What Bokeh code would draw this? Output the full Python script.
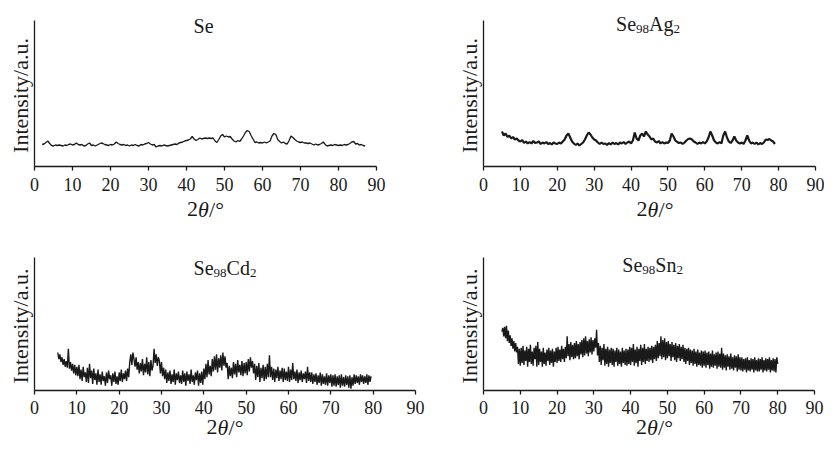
import math
import numpy as np
from bokeh.plotting import figure
from bokeh.layouts import column, row
from bokeh.models import Label, Range1d, FixedTicker
from bokeh.embed import file_html
from bokeh.resources import INLINE

# ---------------- data ----------------
x_ticks = [0, 10, 20, 30, 40, 50, 60, 70, 80, 90]

se_start, se_step = 2.0, 0.5
se_intensity = [
    22, 22.5, 24, 25.5, 23, 21, 20.5, 21.5, 21, 21.5,
    21, 20.5, 21.5, 21, 22, 22.5, 21.5, 22, 23.5, 22,
    21.5, 22, 20.5, 21, 22.5, 23.5, 21, 21.5, 20.5, 21.5,
    22.5, 23.5, 23, 22, 21.5, 21, 22, 21.5, 22.5, 24.5,
    23, 22, 21.5, 22, 21, 21.5, 20.5, 21.5, 21, 22,
    21, 20.5, 22, 21.5, 22.5, 23, 24, 22.5, 21.5, 22,
    19.5, 20.5, 21, 20.5, 21.5, 21, 20.5, 21, 21.5, 22,
    22.5, 22, 23.5, 24, 24.5, 25.5, 26, 26.5, 27.5, 30,
    27.5, 26, 27, 28.5, 27.5, 28, 28.5, 28, 28.5, 28,
    28.5, 25.5, 24, 27, 30.5, 32, 29.5, 30.5, 29.5, 30,
    27.5, 25.5, 24.5, 26, 25, 27.5, 30.5, 34, 36, 35,
    31, 27.5, 24, 24.5, 23.5, 24, 23.5, 24.5, 23.5, 24.5,
    25.5, 30.5, 33, 32, 27, 25, 23.5, 24.5, 23, 22.5,
    26, 30.5, 29, 27, 25.5, 24.5, 24, 24.5, 23.5, 23.5,
    23, 23.5, 22.5, 21.5, 22.5, 21.5, 22, 23, 24.5, 22,
    20.5, 21, 21.5, 21, 22, 21.5, 21, 21.5, 21, 22,
    21.5, 22, 23, 24.5, 25, 22.5, 23, 21.5, 22, 21,
    20.5,
]

ag_start, ag_step = 5.0, 0.5
ag_intensity = [
    35, 31, 33, 29.5, 31, 28, 29.5, 27, 28, 26,
    25, 26.5, 23.5, 25, 23, 24.5, 23, 25.5, 23.5, 24,
    25, 22.5, 24, 23, 24.5, 22.5, 23.5, 22, 24, 23,
    22.5, 24, 23, 25, 27, 31, 33, 29, 25, 23,
    21.5, 23, 21, 22.5, 24, 27, 31, 34, 32, 29,
    27, 26, 24, 22.5, 24, 22.5, 23, 21.5, 23.5, 22,
    24, 22.5, 23.5, 22, 24, 23, 24.5, 22.5, 24, 25,
    23, 26, 34, 28, 26, 31, 33, 30, 35, 32,
    30, 27, 28, 25, 24, 25.5, 23, 24.5, 23, 24,
    23.5, 26, 33, 30, 26, 24.5, 23.5, 24, 22.5, 24,
    26, 27.5, 28, 27, 25, 24, 22.5, 24, 23, 24.5,
    23, 25, 29, 35, 31, 26, 24, 23, 24.5, 23,
    31, 35, 29, 25, 23.5, 26, 30, 26, 24, 23,
    24, 22.5, 26, 31, 26, 23, 24, 22.5, 24, 22,
    23.5, 22.5, 24, 27, 26.5, 27.5, 26, 25, 22.5,
]

cd_start, cd_step = 5.5, 0.25
cd_intensity = [
    40, 33, 38, 30, 35, 27, 33, 25, 31, 24, 44, 23, 30, 21, 28, 18, 27, 16, 25, 15,
    27, 12, 22, 10, 25, 14, 19, 9, 24, 8, 28, 13, 21, 7, 23, 11, 18, 6, 22, 9,
    17, 6, 20, 10, 15, 5, 19, 8, 21, 12, 16, 5, 18, 9, 20, 7, 15, 6, 19, 10,
    22, 9, 18, 12, 21, 10, 23, 14, 30, 38, 27, 40, 33, 25, 35, 22, 30, 18, 29, 20,
    33, 16, 28, 19, 35, 17, 30, 15, 32, 21, 26, 44, 29, 38, 26, 35, 31, 18, 30, 15,
    24, 12, 22, 8, 19, 10, 21, 7, 17, 9, 22, 6, 18, 11, 20, 8, 16, 7, 21, 9,
    18, 5, 20, 10, 17, 7, 22, 9, 16, 6, 19, 11, 21, 5, 18, 8, 20, 6, 23, 12,
    28, 14, 32, 17, 26, 15, 33, 20, 36, 22, 38, 19, 34, 24, 37, 21, 40, 26, 36, 24,
    29, 12, 26, 15, 24, 13, 30, 17, 28, 14, 32, 19, 27, 16, 31, 15, 29, 18, 30, 16,
    33, 20, 35, 24, 31, 18, 28, 11, 26, 14, 29, 9, 24, 13, 27, 10, 25, 12, 28, 14,
    37, 14, 25, 11, 23, 9, 22, 13, 25, 10, 21, 12, 24, 9, 23, 11, 20, 10, 25, 9,
    22, 11, 29, 12, 20, 10, 22, 8, 19, 11, 21, 9, 18, 12, 20, 8, 25, 10, 19, 9,
    19, 7, 17, 9, 18, 6, 16, 8, 19, 5, 17, 7, 15, 6, 18, 5, 16, 8, 17, 4,
    16, 5, 17, 4, 15, 6, 16, 3, 17, 5, 14, 4, 16, 6, 15, 3, 16, 2, 14, 5,
    17, 7, 16, 8, 15, 6, 17, 9, 16, 7, 15, 8, 17, 6, 16, 9, 15,
]

sn_start, sn_step = 5.0, 0.25
sn_intensity = [
    62, 66, 57, 67, 55, 68, 52, 63, 50, 58, 47, 55, 44, 52, 41, 50, 40, 46, 28, 44,
    26, 45, 29, 47, 27, 42, 31, 46, 25, 44, 30, 48, 28, 41, 26, 45, 33, 47, 25, 51,
    27, 44, 30, 41, 25, 45, 28, 40, 26, 43, 31, 45, 27, 42, 29, 44, 25, 41, 30, 45,
    29, 46, 31, 43, 30, 47, 33, 44, 30, 46, 34, 57, 36, 49, 32, 51, 35, 48, 33, 50,
    34, 52, 36, 49, 33, 51, 38, 53, 35, 55, 37, 57, 39, 52, 36, 54, 40, 56, 38, 53,
    41, 55, 45, 64, 37, 50, 30, 47, 27, 45, 32, 49, 26, 44, 28, 46, 25, 43, 29, 45,
    27, 44, 25, 42, 30, 45, 26, 43, 28, 41, 25, 45, 29, 42, 27, 44, 26, 43, 28, 46,
    27, 45, 30, 49, 26, 43, 29, 46, 25, 44, 31, 48, 27, 45, 30, 49, 28, 44, 31, 46,
    30, 45, 32, 47, 29, 46, 33, 48, 31, 52, 34, 50, 36, 57, 33, 53, 35, 55, 32, 51,
    34, 52, 36, 49, 31, 51, 35, 48, 32, 50, 30, 47, 34, 49, 31, 46, 33, 48, 30, 45,
    28, 44, 31, 45, 27, 43, 29, 42, 26, 44, 28, 41, 25, 43, 27, 40, 26, 42, 24, 41,
    26, 42, 24, 40, 27, 41, 23, 39, 25, 42, 24, 38, 26, 40, 23, 41, 25, 39, 24, 45,
    22, 39, 24, 37, 21, 38, 25, 36, 22, 39, 23, 35, 21, 37, 24, 36, 20, 38, 22, 35,
    21, 35, 20, 33, 22, 34, 19, 35, 21, 32, 20, 34, 22, 33, 19, 35, 21, 32, 20, 34,
    20, 33, 22, 35, 19, 32, 21, 34, 20, 33, 22, 35, 19, 32, 21, 34, 20, 33, 19, 35,
    28,
]

titles = [
    [("Se", False)],
    [("Se", False), ("98", True), ("Ag", False), ("2", True)],
    [("Se", False), ("98", True), ("Cd", False), ("2", True)],
    [("Se", False), ("98", True), ("Sn", False), ("2", True)],
]
y_label = "Intensity/a.u."
x_label_runs = [("2", "normal"), ("\u03b8", "italic"), ("/\u00b0", "normal")]

# ---------------- styling ----------------
SERIF = "Liberation Serif"
INK = "#1a1a1a"
TITLE_PX, SUB_PX, TICK_PX, XLAB_PX, YLAB_PX = 20, 13, 18, 22, 22
BASE_FIX = 0.33  # lift (in em) so the glyph baseline lands on the anchor
WIDTHS = {"S": 0.556, "e": 0.444, "A": 0.722, "g": 0.5, "C": 0.667, "d": 0.5,
          "n": 0.5, "\u03b8": 0.5, "/": 0.278, "\u00b0": 0.4}


def text_w(s, size):
    return sum(WIDTHS.get(c, 0.5) for c in s) * size


def make_panel(W, H, a0, a90, b0, bt, yspan, standoff):
    """Frame fills the figure; axes are pinned at x=0 / y=0 (fixed_location)."""
    kx = (a90 - a0) / 90.0
    ky = (b0 - bt) / yspan
    p = figure(width=W, height=H, output_backend="svg", toolbar_location=None,
               x_range=Range1d(-a0 / kx, (W - a0) / kx),
               y_range=Range1d(-(H - b0) / ky, b0 / ky),
               min_border=0)
    p.outline_line_color = None
    p.xgrid.visible = False
    p.ygrid.visible = False
    p.background_fill_color = "white"
    p.border_fill_color = "white"
    xa = p.xaxis[0]
    xa.fixed_location = 0
    xa.bounds = (0, 90)
    xa.ticker = FixedTicker(ticks=x_ticks)
    xa.axis_line_color = INK
    xa.axis_line_width = 1.3
    xa.major_tick_line_color = INK
    xa.major_tick_line_width = 1.3
    xa.major_tick_in = 0
    xa.major_tick_out = 4
    xa.minor_tick_line_color = None
    xa.major_label_standoff = standoff
    xa.major_label_text_font = SERIF
    xa.major_label_text_font_size = f"{TICK_PX}px"
    xa.major_label_text_color = INK
    ya = p.yaxis[0]
    ya.fixed_location = 0
    ya.bounds = (0, yspan)
    ya.ticker = FixedTicker(ticks=[])
    ya.axis_line_color = INK
    ya.axis_line_width = 1.3
    ya.major_tick_line_color = None
    ya.minor_tick_line_color = None
    ya.major_label_text_font_size = "0px"
    ya.major_label_standoff = 0
    return p


def add_title(p, runs, xc, ytop, drop):
    sizes = [SUB_PX if sub else TITLE_PX for _, sub in runs]
    total = sum(text_w(t, s) for (t, _), s in zip(runs, sizes))
    off = -total / 2
    for (t, sub), s in zip(runs, sizes):
        p.add_layout(Label(x=xc, y=ytop, x_offset=off,
                           y_offset=-drop - (3 if sub else 0) + BASE_FIX * s,
                           text=t, text_font=SERIF, text_font_size=f"{s}px",
                           text_align="left", text_baseline="alphabetic", text_color=INK))
        off += text_w(t, s)


def add_xlabel(p, xc, below):
    total = sum(text_w(t, XLAB_PX) for t, _ in x_label_runs)
    off = -total / 2
    for t, style in x_label_runs:
        p.add_layout(Label(x=xc, y=0, x_offset=off, y_offset=-below + BASE_FIX * XLAB_PX,
                           text=t, text_font=SERIF, text_font_size=f"{XLAB_PX}px",
                           text_font_style=style, text_align="left",
                           text_baseline="alphabetic", text_color=INK))
        off += text_w(t, XLAB_PX)


def add_ylabel(p, yspan):
    p.add_layout(Label(x=0, y=yspan / 2, x_offset=-7 - BASE_FIX * YLAB_PX, y_offset=-2,
                       angle=math.pi / 2, text=y_label,
                       text_font=SERIF, text_font_size=f"{YLAB_PX}px",
                       text_align="center", text_baseline="alphabetic", text_color=INK))


def scan(start, step, vals):
    return start + step * np.arange(len(vals))


TOP_SPAN, BOT_SPAN = 146, 140

p1 = make_panel(420, 222, 34, 376, 166, 20, TOP_SPAN, 7)
p1.line(scan(se_start, se_step, se_intensity), se_intensity, line_color=INK, line_width=1.3)
add_title(p1, titles[0], 44.5, TOP_SPAN, 12)

p2 = make_panel(404, 222, 63, 395, 166, 20, TOP_SPAN, 7)
p2.line(scan(ag_start, ag_step, ag_intensity), ag_intensity, line_color=INK, line_width=2.2)
add_title(p2, titles[1], 44.6, TOP_SPAN, 10)

p3 = make_panel(430, 218, 34, 415, 168, 35, BOT_SPAN, 6)
p3.line(scan(cd_start, cd_step, cd_intensity), cd_intensity, line_color=INK, line_width=1.4)
add_title(p3, titles[2], 45, BOT_SPAN, 17)

p4 = make_panel(394, 218, 53, 384, 168, 35, BOT_SPAN, 6)
p4.line(scan(sn_start, sn_step, sn_intensity), sn_intensity, line_color=INK, line_width=1.4)
add_title(p4, titles[3], 46, BOT_SPAN, 14)

for p, span, xc, below in ((p1, TOP_SPAN, 45, 50), (p2, TOP_SPAN, 46.5, 50),
                           (p3, BOT_SPAN, 45, 44), (p4, BOT_SPAN, 46.5, 44)):
    add_xlabel(p, xc, below)
    add_ylabel(p, span)

layout = column(row(p1, p2), row(p3, p4))

open("out.html", "w").write(file_html(layout, INLINE))
